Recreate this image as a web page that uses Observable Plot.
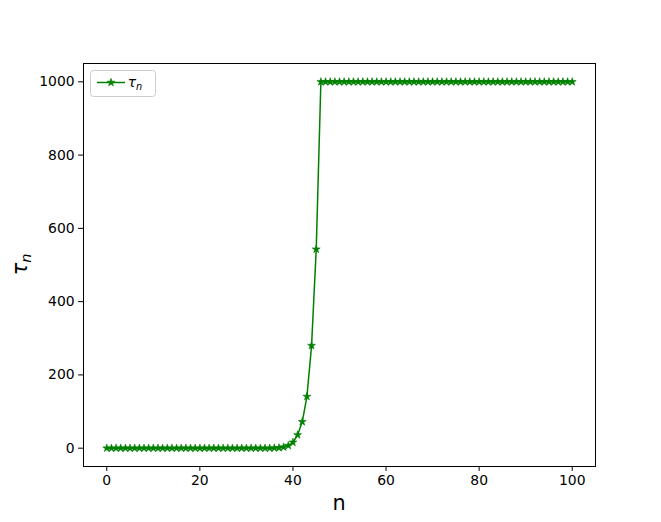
<!DOCTYPE html>
<html>
<head>
<meta charset="utf-8">
<script src="https://cdn.jsdelivr.net/npm/d3@7"></script>
<script src="https://cdn.jsdelivr.net/npm/@observablehq/plot@0.6"></script>
<style>
  html, body { margin: 0; padding: 0; background: #fff; }
  svg { font-family: "DejaVu Sans", sans-serif; }
</style>
</head>
<body>
<div id="chart"></div>
<script>
// Values (tau_n for n = 0..100)
const tauValues = [
  0,0,0,0,0,0,0,0,0,0,
  0,0,0,0,0,0,0,0,0,0,
  0,0,0,0,0,0,0,0,0,0,
  0,0,0,0,0,0,0.5,1,3,7,
  16,36,72,141,280,543,1000,1000,1000,1000,
  1000,1000,1000,1000,1000,1000,1000,1000,1000,1000,
  1000,1000,1000,1000,1000,1000,1000,1000,1000,1000,
  1000,1000,1000,1000,1000,1000,1000,1000,1000,1000,
  1000,1000,1000,1000,1000,1000,1000,1000,1000,1000,
  1000,1000,1000,1000,1000,1000,1000,1000,1000,1000,
  1000
];
const nValues = tauValues.map((_, i) => i);
const xTicks = [0, 20, 40, 60, 80, 100];
const yTicks = [0, 200, 400, 600, 800, 1000];
const xLabel = "n";
const seriesName = "τ";
const seriesSub = "n";

const data = nValues.map((n, i) => ({n, tau: tauValues[i]}));
const green = "#008000";

const W = 661, H = 522;
const mL = 83, mR = 66, mT = 63, mB = 56;

const plot = Plot.plot({
  width: W,
  height: H,
  marginLeft: mL,
  marginRight: mR,
  marginTop: mT,
  marginBottom: mB,
  style: {fontFamily: "DejaVu Sans, sans-serif", color: "black", background: "white", overflow: "visible"},
  x: {domain: [-5, 105], label: null},
  y: {domain: [-50, 1050], label: null},
  marks: [
    Plot.axisX({ticks: xTicks, tickSize: 4.9, tickPadding: 4, fontSize: 13.9, tickFormat: d => String(d), label: null}),
    Plot.axisY({ticks: yTicks, tickSize: 4.9, tickPadding: 4, fontSize: 13.9, tickFormat: d => String(d), label: null}),
    Plot.frame({stroke: "black", strokeWidth: 1}),
    Plot.line(data, {x: "n", y: "tau", stroke: green, strokeWidth: 1.5}),
    Plot.dot(data, {x: "n", y: "tau", symbol: "star", fill: green, stroke: green, strokeWidth: 0.6, r: 2.5})
  ]
});

document.getElementById("chart").appendChild(plot);

const svg = d3.select(plot);
// x axis label
svg.append("text")
  .attr("x", mL + (W - mL - mR) / 2)
  .attr("y", 510)
  .attr("text-anchor", "middle")
  .attr("font-size", 20.8)
  .attr("fill", "black")
  .text(xLabel);

// y axis label (tau_n)
const yl = svg.append("text")
  .attr("transform", `translate(27,${mT + (H - mT - mB) / 2}) rotate(-90)`)
  .attr("text-anchor", "middle")
  .attr("font-size", 20.8)
  .attr("fill", "black");
yl.append("tspan").attr("font-style", "italic").text(seriesName);
yl.append("tspan").attr("font-style", "italic").attr("font-size", 14.5).attr("dy", 4).text(seriesSub);

// legend
const lg = svg.append("g");
lg.append("rect")
  .attr("x", 90.5).attr("y", 70.5).attr("width", 65).attr("height", 26)
  .attr("rx", 3).attr("fill", "white").attr("fill-opacity", 0.8)
  .attr("stroke", "#cccccc").attr("stroke-width", 1);
lg.append("line")
  .attr("x1", 97).attr("x2", 125).attr("y1", 82.5).attr("y2", 82.5)
  .attr("stroke", green).attr("stroke-width", 1.5);
lg.append("path")
  .attr("d", d3.symbol(d3.symbolStar, 2.5 * 2.5 * Math.PI)())
  .attr("transform", "translate(111,82.5)")
  .attr("fill", green).attr("stroke", green).attr("stroke-width", 0.6);
const lt = lg.append("text")
  .attr("x", 135).attr("y", 87)
  .attr("font-size", 13.9).attr("fill", "black");
lt.append("tspan").attr("font-style", "italic").text(seriesName);
lt.append("tspan").attr("font-style", "italic").attr("font-size", 9.7).attr("dy", 3).text(seriesSub);
</script>
</body>
</html>
